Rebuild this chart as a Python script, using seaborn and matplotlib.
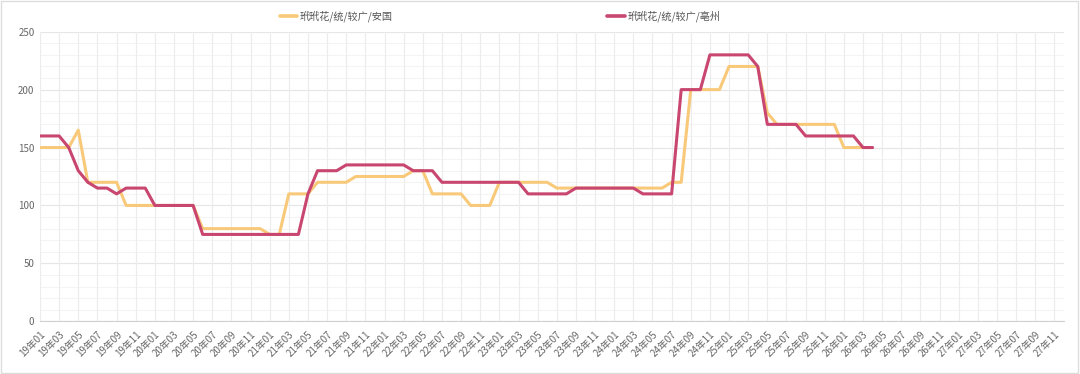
import matplotlib
matplotlib.use("Agg")
import matplotlib.pyplot as plt
import seaborn as sns
import pandas as pd
import numpy as np
from matplotlib.patches import Rectangle
from matplotlib.lines import Line2D

sns.set_theme(style="white")
plt.rcParams['font.family'] = ['Noto Sans CJK SC', 'DejaVu Sans']

# ---- data ----
years = ["19", "20", "21", "22", "23", "24", "25", "26", "27"]
months = ["01", "02", "03", "04", "05", "06", "07", "08", "09", "10", "11", "12"]
categories = [f"{y}年{m}" for y in years for m in months]

series_names = ["玳玳花/统/较广/安国", "玳玳花/统/较广/亳州"]

anguo = [150, 150, 150, 150, 165, 120, 120, 120, 120, 100,
         100, 100, 100, 100, 100, 100, 100, 80, 80, 80,
         80, 80, 80, 80, 75, 75, 110, 110, 110, 120,
         120, 120, 120, 125, 125, 125, 125, 125, 125, 130,
         130, 110, 110, 110, 110, 100, 100, 100, 120, 120,
         120, 120, 120, 120, 115, 115, 115, 115, 115, 115,
         115, 115, 115, 115, 115, 115, 120, 120, 200, 200,
         200, 200, 220, 220, 220, 220, 180, 170, 170, 170,
         170, 170, 170, 170, 150, 150, 150]

bozhou = [160, 160, 160, 150, 130, 120, 115, 115, 110, 115,
          115, 115, 100, 100, 100, 100, 100, 75, 75, 75,
          75, 75, 75, 75, 75, 75, 75, 75, 110, 130,
          130, 130, 135, 135, 135, 135, 135, 135, 135, 130,
          130, 130, 120, 120, 120, 120, 120, 120, 120, 120,
          120, 110, 110, 110, 110, 110, 115, 115, 115, 115,
          115, 115, 115, 110, 110, 110, 110, 200, 200, 200,
          230, 230, 230, 230, 230, 220, 170, 170, 170, 170,
          160, 160, 160, 160, 160, 160, 150, 150]

colors = ["#F9C97A", "#C8466F"]
y_ticks = [0, 50, 100, 150, 200, 250]

# ---- long-form frame ----
rows = []
for name, vals in zip(series_names, [anguo, bozhou]):
    for i, v in enumerate(vals):
        rows.append({"idx": i, "value": v, "series": name})
df = pd.DataFrame(rows)

fig = plt.figure(figsize=(10.8, 3.74), dpi=100)
ax = fig.add_axes([40 / 1080, 1 - 321.3 / 374, (1064 - 40) / 1080, (321.3 - 31.7) / 374])

# grid
for yv in np.arange(0, 251, 10):
    ax.axhline(yv, color="#f4f4f4", lw=0.8, zorder=0)
for yv in y_ticks:
    ax.axhline(yv, color="#e6e6e6", lw=0.8, zorder=0.5)
for xi in range(0, len(categories), 2):
    ax.axvline(xi, color="#ececec", lw=0.8, zorder=0.5)

sns.lineplot(data=df, x="idx", y="value", hue="series", hue_order=series_names,
             palette=dict(zip(series_names, colors)), linewidth=2.2, ax=ax,
             legend=False, zorder=3)

ax.set_xlim(0, len(categories) - 1)
ax.set_ylim(0, 250)
ax.set_yticks(y_ticks)
ax.set_yticklabels([str(v) for v in y_ticks], fontsize=7, color="#666666")
xt = list(range(0, len(categories), 2))
ax.set_xticks(xt)
ax.set_xticklabels([categories[i] for i in xt], rotation=45, ha="right",
                   rotation_mode="anchor", fontsize=7, color="#666666")
ax.tick_params(axis="both", length=0, pad=4)
ax.tick_params(axis="x", pad=6)
ax.set_xlabel("")
ax.set_ylabel("")
for s in ["top", "right", "left"]:
    ax.spines[s].set_visible(False)
ax.spines["bottom"].set_color("#d0d0d0")
ax.spines["bottom"].set_linewidth(0.8)

# legend
handles = [Line2D([0], [0], color=c, lw=2.6) for c in colors]
fig.legend(handles, series_names, loc="center", bbox_to_anchor=(500 / 1080, 1 - 16 / 374),
           ncol=2, frameon=False, fontsize=7.3, handlelength=1.7, handletextpad=0.25,
           columnspacing=21.2, labelcolor="#555555")

# outer frame
fig.patches.append(Rectangle((0.001, 0.002), 0.997, 0.995, transform=fig.transFigure,
                             fill=False, edgecolor="#dddddd", lw=1))

fig.savefig("out.png", dpi=100, facecolor="white")
